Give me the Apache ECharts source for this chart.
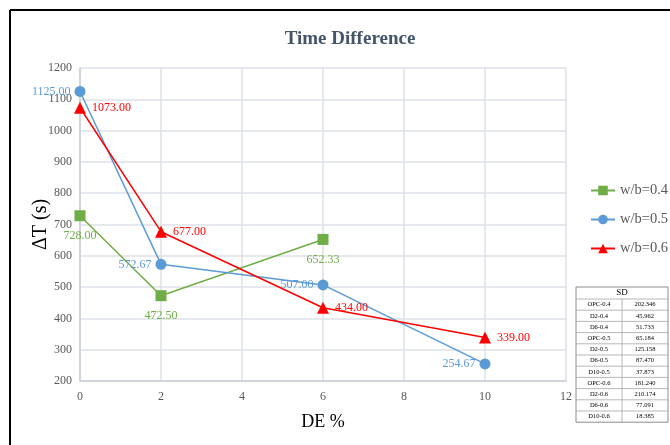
<!DOCTYPE html>
<html>
<head>
<meta charset="utf-8">
<script src="https://cdn.jsdelivr.net/npm/echarts@6/dist/echarts.min.js"></script>
<style>html,body{margin:0;padding:0;background:#fff}#c{width:670px;height:445px}</style>
</head>
<body>
<div id="c"></div>
<script>
var seriesNames = ['w/b=0.4', 'w/b=0.5', 'w/b=0.6'];
var x04 = [0, 2, 6];
var y04 = [728.00, 472.50, 652.33];
var x05 = [0, 2, 6, 10];
var y05 = [1125.00, 572.67, 507.00, 254.67];
var x06 = [0, 2, 6, 10];
var y06 = [1073.00, 677.00, 434.00, 339.00];
var xTicks = [0, 2, 4, 6, 8, 10, 12];
var yTicks = [200, 300, 400, 500, 600, 700, 800, 900, 1000, 1100, 1200];
var sdLabels = ['OPC-0.4','D2-0.4','D6-0.4','OPC-0.5','D2-0.5','D6-0.5','D10-0.5','OPC-0.6','D2-0.6','D6-0.6','D10-0.6'];
var sdValues = ['202.346','45.962','51.733','65.184','125.158','87.470','37.873','181.240','210.174','77.091','18.385'];

var FONT = 'Liberation Serif';
function pairs(xs, ys){ return xs.map(function(x,i){return [x, ys[i]];}); }

// table graphic
var tx = 576, ty = 287, tw = 92, hh = 12, rh = 11.2, cw = 46;
var tableEls = [];
tableEls.push({type:'rect', shape:{x:tx, y:ty, width:tw, height:hh + rh*sdLabels.length}, style:{fill:'#fff', stroke:'#8c8c8c', lineWidth:1}});
tableEls.push({type:'text', style:{text:'SD', x:tx+tw/2, y:ty+hh/2, align:'center', verticalAlign:'middle', font:'9px "Liberation Serif"', fill:'#000'}});
for (var i=0;i<sdLabels.length;i++){
  var yy = ty + hh + rh*i;
  tableEls.push({type:'line', shape:{x1:tx, y1:yy, x2:tx+tw, y2:yy}, style:{stroke:'#a6a6a6', lineWidth:0.8}});
  tableEls.push({type:'line', shape:{x1:tx+cw, y1:yy, x2:tx+cw, y2:yy+rh}, style:{stroke:'#a6a6a6', lineWidth:0.8}});
  tableEls.push({type:'text', style:{text:sdLabels[i], x:tx+cw/2, y:yy+rh/2, align:'center', verticalAlign:'middle', font:'6.5px "Liberation Serif"', fill:'#000'}});
  tableEls.push({type:'text', style:{text:sdValues[i], x:tx+cw+cw/2, y:yy+rh/2, align:'center', verticalAlign:'middle', font:'6.5px "Liberation Serif"', fill:'#000'}});
}

var chart = echarts.init(document.getElementById('c'), null, {renderer:'canvas'});
chart.setOption({
  backgroundColor:'#fff',
  animation:false,
  textStyle:{fontFamily:FONT},
  title:{text:'Time Difference', left:345, top:25, textAlign:'center',
    textStyle:{fontFamily:FONT, fontSize:19, fontWeight:'bold', color:'#44546A'}},
  grid:{left:80, right:104, top:68, bottom:64},
  legend:{orient:'vertical', left:590, top:183, padding:0, itemGap:14, itemWidth:24, itemHeight:12,
    textStyle:{fontFamily:FONT, fontSize:14.5, color:'#595959'}, data:seriesNames},
  xAxis:{type:'value', min:0, max:12, interval:2,
    name:'DE %', nameLocation:'middle', nameGap:32,
    nameTextStyle:{fontFamily:FONT, fontSize:18, color:'#000'},
    axisLine:{show:true, lineStyle:{color:'#C9CED6', width:1.5}},
    axisTick:{show:false},
    axisLabel:{fontFamily:FONT, fontSize:12, color:'#595959', margin:10, formatter:function(v){return xTicks.indexOf(v)>=0?String(v):'';}},
    splitLine:{show:true, lineStyle:{color:'#DDE1E6', width:1.5}}},
  yAxis:{type:'value', min:200, max:1200, interval:100,
    name:'\u0394T (s)', nameLocation:'middle', nameGap:29, nameRotate:90, nameMoveOverlap:false,
    nameTextStyle:{fontFamily:FONT, fontSize:20, color:'#000'},
    axisLine:{show:true, lineStyle:{color:'#C9CED6', width:1.5}},
    axisTick:{show:false},
    axisLabel:{fontFamily:FONT, fontSize:12, color:'#595959', margin:8, formatter:function(v){return yTicks.indexOf(v)>=0?String(v):'';}},
    splitLine:{show:true, lineStyle:{color:'#DDE1E6', width:1.5}}},
  series:[
    {name:seriesNames[0], type:'line', data:pairs(x04,y04),
      symbol:'rect', symbolSize:11, color:'#70AD47', lineStyle:{width:1.5, color:'#70AD47'}, itemStyle:{color:'#70AD47'},
      label:{show:true, position:'bottom', distance:9, fontFamily:FONT, fontSize:12, color:'#70AD47', formatter:function(p){return p.value[1].toFixed(2);}}},
    {name:seriesNames[1], type:'line', data:pairs(x05,y05),
      symbol:'circle', symbolSize:11, color:'#5B9BD5', lineStyle:{width:1.5, color:'#5B9BD5'}, itemStyle:{color:'#5B9BD5'},
      label:{show:true, position:'left', distance:4, fontFamily:FONT, fontSize:12, color:'#5B9BD5', formatter:function(p){return p.value[1].toFixed(2);}}},
    {name:seriesNames[2], type:'line', data:pairs(x06,y06),
      symbol:'triangle', symbolSize:12, color:'#FF0000', lineStyle:{width:1.5, color:'#FF0000'}, itemStyle:{color:'#FF0000'},
      label:{show:true, position:'right', distance:6, fontFamily:FONT, fontSize:12, color:'#FF0000', formatter:function(p){return p.value[1].toFixed(2);}}}
  ],
  graphic:[
    {type:'line', shape:{x1:10, y1:10, x2:670, y2:10}, style:{stroke:'#000', lineWidth:2}},
    {type:'line', shape:{x1:10, y1:10, x2:10, y2:445}, style:{stroke:'#000', lineWidth:2}},
    {type:'group', children:tableEls}
  ]
});
</script>
</body>
</html>
